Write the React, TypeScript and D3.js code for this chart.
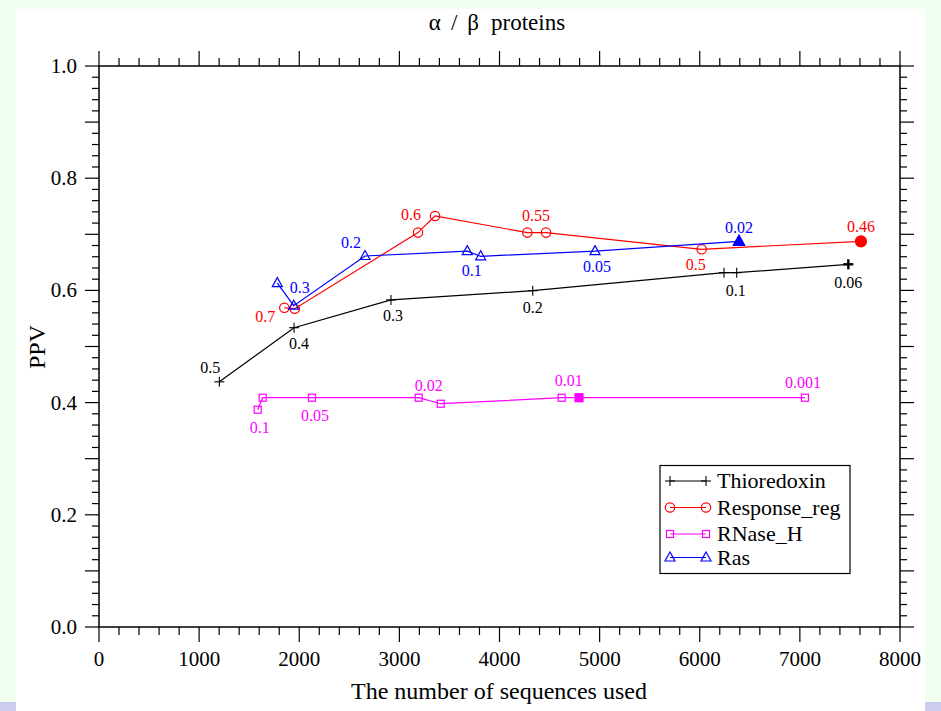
import React, { useEffect, useRef } from 'react';
import * as d3 from 'd3';

// values
const seriesNames = ['Thioredoxin', 'Response_reg', 'RNase_H', 'Ras'];

const thioX = [1202, 1948, 2916, 4332, 6242, 6369, 7484];
const thioY = [0.437, 0.5335, 0.583, 0.5995, 0.6316, 0.6316, 0.6465];
const thioLabels = ['0.5', '0.4', '0.3', '0.2', '', '0.1', '0.06'];

const respX = [1851, 1955, 3186, 3356, 4278, 4465, 6019, 7610];
const respY = [0.569, 0.5674, 0.703, 0.7326, 0.703, 0.703, 0.6733, 0.6875];
const respLabels = ['0.7', '', '', '0.6', '', '0.55', '0.5', '0.46'];

const rnaseX = [1585, 1635, 2127, 3193, 3413, 4621, 4794, 7051];
const rnaseY = [0.3873, 0.4087, 0.4087, 0.4087, 0.398, 0.4087, 0.4087, 0.4087];
const rnaseLabels = ['0.1', '', '0.05', '0.02', '', '0.01', '', '0.001'];

const rasX = [1781, 1945, 2657, 3678, 3812, 4954, 6392];
const rasY = [0.613, 0.5727, 0.6613, 0.67, 0.6608, 0.67, 0.6875];
const rasLabels = ['', '0.3', '0.2', '', '0.1', '0.05', '0.02'];

const xTicks = [0, 1000, 2000, 3000, 4000, 5000, 6000, 7000, 8000];
const yTickLabels = [0, 0.2, 0.4, 0.6, 0.8, 1.0];

// label placement relative to the point (layout only)
const thioOff = [[-9, -9], [5, 21], [2, 21], [0, 22], [0, 0], [-1, 23], [0, 24]];
const respOff = [[-19, 14], [0, 0], [0, 0], [-24, 4], [0, 0], [-10, -12], [-6, 21], [0, -9]];
const rnaseOff = [[2, 23], [0, 0], [3, 23], [10, -7], [0, 0], [7, -12], [0, 0], [-2, -10]];
const rasOff = [[0, 0], [6, -13], [-14, -8], [0, 0], [-9, 20], [2, 21], [0, -8]];

const FONT = '"Liberation Serif", "Times New Roman", serif';

const App = () => {
  const ref = useRef<SVGSVGElement>(null);

  useEffect(() => {
    const W = 941, H = 711;
    const svg = d3.select(ref.current);
    svg.selectAll('*').remove();

    // background
    svg.append('rect').attr('width', W).attr('height', H).attr('fill', '#f0fff0');
    svg.append('rect').attr('x', 0).attr('y', 702).attr('width', W).attr('height', 9).attr('fill', '#ccccee');
    svg.append('rect').attr('x', 16).attr('y', 9).attr('width', 909).attr('height', 702).attr('fill', '#ffffff');

    const left = 99, right = 900, top = 66, bottom = 627;
    const x = d3.scaleLinear().domain([0, 8000]).range([left, right]);
    const y = d3.scaleLinear().domain([0, 1]).range([bottom, top]);

    const g = svg.append('g');

    // ticks on all four sides, pointing out
    const majX = d3.range(0, 8001, 1000);
    const minX = d3.range(0, 8001, 200).filter(v => v % 1000 !== 0);
    const majY = d3.range(0, 11).map(i => i / 10);
    const minY = d3.range(0, 51).map(i => i / 50).filter((v, i) => i % 5 !== 0);
    const tick = (x1: number, y1: number, x2: number, y2: number) =>
      g.append('line').attr('x1', x1).attr('y1', y1).attr('x2', x2).attr('y2', y2)
        .attr('stroke', '#000').attr('stroke-width', 1.2);

    majX.forEach(v => { tick(x(v), bottom, x(v), bottom + 15); tick(x(v), top, x(v), top - 15); });
    minX.forEach(v => { tick(x(v), bottom, x(v), bottom + 8); tick(x(v), top, x(v), top - 8); });
    majY.forEach(v => { tick(left, y(v), left - 14, y(v)); tick(right, y(v), right + 14, y(v)); });
    minY.forEach(v => { tick(left, y(v), left - 7, y(v)); tick(right, y(v), right + 7, y(v)); });

    g.append('rect').attr('x', left).attr('y', top).attr('width', right - left).attr('height', bottom - top)
      .attr('fill', 'none').attr('stroke', '#000').attr('stroke-width', 1.5);

    g.selectAll('.xt').data(xTicks).enter().append('text')
      .attr('x', d => x(d)).attr('y', 666).attr('text-anchor', 'middle')
      .attr('font-family', FONT).attr('font-size', 21).text(d => String(d));
    g.selectAll('.yt').data(yTickLabels).enter().append('text')
      .attr('x', 77).attr('y', d => y(d) + 7).attr('text-anchor', 'end')
      .attr('font-family', FONT).attr('font-size', 21).text(d => d.toFixed(1));

    // titles
    const title = svg.append('text').attr('x', 497).attr('y', 30).attr('text-anchor', 'middle')
      .attr('font-family', FONT).attr('font-size', 23);
    title.append('tspan').text('α');
    title.append('tspan').attr('dx', 10).text('/');
    title.append('tspan').attr('dx', 10).text('β');
    title.append('tspan').attr('dx', 12).text('proteins');

    svg.append('text').attr('x', 499).attr('y', 699).attr('text-anchor', 'middle')
      .attr('font-family', FONT).attr('font-size', 24).text('The number of sequences used');
    svg.append('text').attr('transform', 'translate(45,347) rotate(-90)').attr('text-anchor', 'middle')
      .attr('font-family', FONT).attr('font-size', 24).text('PPV');

    const marker = (sel: any, type: string, cx: number, cy: number, color: string, filled: boolean) => {
      if (type === 'plus') {
        const h = 5, sw = filled ? 2.4 : 1.1;
        sel.append('line').attr('x1', cx - h).attr('x2', cx + h).attr('y1', cy).attr('y2', cy)
          .attr('stroke', color).attr('stroke-width', sw);
        sel.append('line').attr('x1', cx).attr('x2', cx).attr('y1', cy - h).attr('y2', cy + h)
          .attr('stroke', color).attr('stroke-width', sw);
      } else if (type === 'circle') {
        sel.append('circle').attr('cx', cx).attr('cy', cy).attr('r', filled ? 5.5 : 4.7)
          .attr('fill', filled ? color : 'none').attr('stroke', color).attr('stroke-width', 1.2);
      } else if (type === 'square') {
        const s = filled ? 8 : 7;
        sel.append('rect').attr('x', cx - s / 2).attr('y', cy - s / 2).attr('width', s).attr('height', s)
          .attr('fill', filled ? color : 'none').attr('stroke', color).attr('stroke-width', 1.2);
      } else {
        const k = filled ? 1.15 : 1;
        const pts = [[0, -5.5], [5, 3.5], [-5, 3.5]].map(p => [cx + p[0] * k, cy + p[1] * k].join(',')).join(' ');
        sel.append('polygon').attr('points', pts)
          .attr('fill', filled ? color : 'none').attr('stroke', color).attr('stroke-width', 1.2);
      }
    };

    const series = [
      { xs: thioX, ys: thioY, labels: thioLabels, off: thioOff, color: '#000000', type: 'plus' },
      { xs: respX, ys: respY, labels: respLabels, off: respOff, color: '#ff0000', type: 'circle' },
      { xs: rnaseX, ys: rnaseY, labels: rnaseLabels, off: rnaseOff, color: '#ff00ff', type: 'square' },
      { xs: rasX, ys: rasY, labels: rasLabels, off: rasOff, color: '#0000ff', type: 'triangle' },
    ];

    // filled marker: last point for most series, 7th point for RNase_H
    const filledIndex = [6, 7, 6, 6];

    series.forEach((s, si) => {
      const pts = s.xs.map((v, i) => [v, s.ys[i]] as [number, number]);
      const line = d3.line<[number, number]>().x(d => x(d[0])).y(d => y(d[1]));
      const sg = svg.append('g');
      sg.append('path').attr('d', line(pts)).attr('fill', 'none')
        .attr('stroke', s.color).attr('stroke-width', 1.2);
      pts.forEach((p, i) => marker(sg, s.type, x(p[0]), y(p[1]), s.color, i === filledIndex[si]));
      pts.forEach((p, i) => {
        if (!s.labels[i]) return;
        sg.append('text').attr('x', x(p[0]) + s.off[i][0]).attr('y', y(p[1]) + s.off[i][1])
          .attr('text-anchor', 'middle').attr('font-family', FONT).attr('font-size', 16)
          .attr('fill', s.color).text(s.labels[i]);
      });
    });

    // legend
    const lg = svg.append('g');
    lg.append('rect').attr('x', 660).attr('y', 465.5).attr('width', 190).attr('height', 108)
      .attr('fill', '#fff').attr('stroke', '#000').attr('stroke-width', 1.2);
    const rowY = [481, 507.5, 534, 557.5];
    series.forEach((s, i) => {
      lg.append('line').attr('x1', 670).attr('x2', 706).attr('y1', rowY[i]).attr('y2', rowY[i])
        .attr('stroke', s.color).attr('stroke-width', 1.2);
      marker(lg, s.type, 670, rowY[i], s.color, false);
      marker(lg, s.type, 706, rowY[i], s.color, false);
      lg.append('text').attr('x', 717).attr('y', rowY[i] + 7).attr('font-family', FONT)
        .attr('font-size', 22).text(seriesNames[i]);
    });
  }, []);

  return (
    <svg ref={ref} width={941} height={711} style={{ position: 'absolute', left: 0, top: 0 }} />
  );
};

export default App;
